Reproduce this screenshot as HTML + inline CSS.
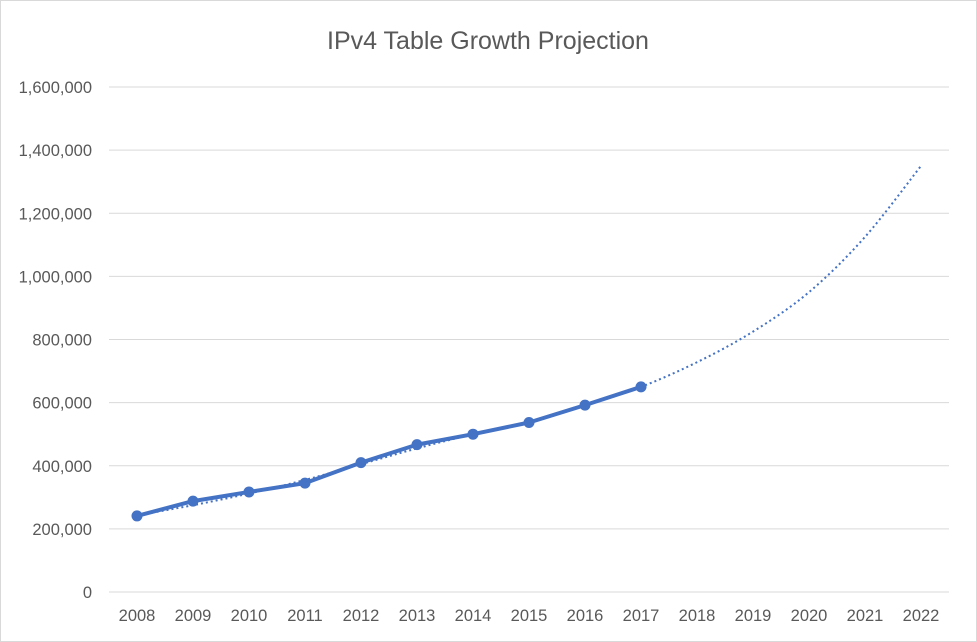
<!DOCTYPE html>
<html><head><meta charset="utf-8"><style>
body{margin:0;background:#fff;}
svg{display:block;font-family:"Liberation Sans",sans-serif;}
</style></head><body>
<svg id="chart" width="977" height="642">
<rect x="0.5" y="0.5" width="976" height="641" fill="#fff" stroke="#d9d9d9"/>
<text x="488" y="49" text-anchor="middle" font-size="25" fill="#595959">IPv4 Table Growth Projection</text>
<g id="grid"></g><g id="yticks"></g><g id="xticks"></g><g id="series"></g>
</svg>
<script>
const categories=[2008,2009,2010,2011,2012,2013,2014,2015,2016,2017,2018,2019,2020,2021,2022];
const actualValues=[241000,288000,317000,345000,410000,467000,500000,537000,592000,650000];
const trendValues=[243000,275000,312000,355000,405000,455000,500000,540000,592000,650000,728000,825000,950000,1125000,1350000];
const yTickValues=[0,200000,400000,600000,800000,1000000,1200000,1400000,1600000];
const ns="http://www.w3.org/2000/svg";
const x0=137,dx=56,yBase=592,yTop=87,yMax=1600000;
const xs=i=>x0+i*dx;
const ys=v=>yBase-(v/yMax)*(yBase-yTop);
function mk(t,a,p){const e=document.createElementNS(ns,t);for(const k in a)e.setAttribute(k,a[k]);p.appendChild(e);return e;}
const grid=document.getElementById('grid'),yt=document.getElementById('yticks'),xt=document.getElementById('xticks'),se=document.getElementById('series');
yTickValues.forEach(v=>{
 const l=mk('line',{x1:109,x2:949,y1:ys(v),y2:ys(v),stroke:'#d9d9d9','stroke-width':1},grid);
 
 
 const t=mk('text',{x:92,y:ys(v)+6,'text-anchor':'end','font-size':16.5,fill:'#595959'},yt);
 t.textContent=v.toLocaleString('en-US');
 
 
});
categories.forEach((c,i)=>{
 const t=mk('text',{x:xs(i),y:621,'text-anchor':'middle','font-size':16.5,fill:'#595959'},xt);
 t.textContent=c;
 
 
});
const tp=trendValues.map((v,i)=>[xs(i),ys(v)]);
let d='M'+tp[0][0]+','+tp[0][1];
for(let i=0;i<tp.length-1;i++){
 const p0=tp[i-1]||tp[i],p1=tp[i],p2=tp[i+1],p3=tp[i+2]||p2;
 d+=' C'+(p1[0]+(p2[0]-p0[0])/6)+','+(p1[1]+(p2[1]-p0[1])/6)+' '+(p2[0]-(p3[0]-p1[0])/6)+','+(p2[1]-(p3[1]-p1[1])/6)+' '+p2[0]+','+p2[1];
}
const tr=mk('path',{d:d,fill:'none',stroke:'#4472C4','stroke-width':2,'stroke-dasharray':'2,3'},se);


const ln=mk('polyline',{points:actualValues.map((v,i)=>xs(i)+','+ys(v)).join(' '),fill:'none',stroke:'#4472C4','stroke-width':4,'stroke-linejoin':'round'},se);


actualValues.forEach((v,i)=>{
 const c=mk('circle',{cx:xs(i),cy:ys(v),r:5.5,fill:'#4472C4'},se);
 
 
});
</script>
</body></html>
